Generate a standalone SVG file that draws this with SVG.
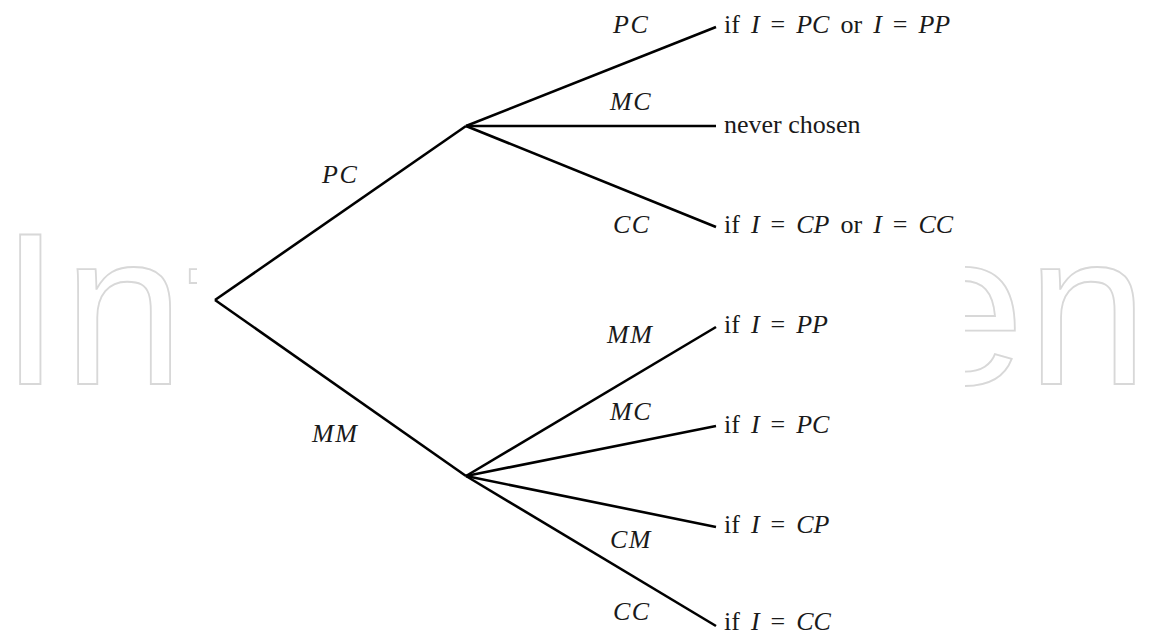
<svg xmlns="http://www.w3.org/2000/svg" width="1150" height="634" viewBox="0 0 1150 634">
<style>
.wm{font-family:"Liberation Sans","DejaVu Sans",Arial,sans-serif;font-size:218px;fill:none;stroke:#d8d8d8;stroke-width:1.8}
.edge{stroke:#000;stroke-width:2.6;stroke-linecap:butt;fill:none}
.lbl{font-family:"Liberation Serif","Times New Roman",serif;font-size:26px;font-style:italic;letter-spacing:1.5px;fill:#1a1a1a}
.leaf{font-family:"Liberation Serif","Times New Roman",serif;font-size:26px;word-spacing:4.5px;fill:#1a1a1a}
.plain{word-spacing:0}
.m{font-style:italic}
</style>
<rect width="1150" height="634" fill="#fff"/>
<text class="wm" x="0" y="384" textLength="1148" lengthAdjust="spacing">IntechOpen</text>
<rect x="197" y="0" width="768" height="634" fill="#fff"/>
<g id="connectors">
<line class="edge" x1="215" y1="300" x2="466" y2="126"/>
<line class="edge" x1="215" y1="300" x2="466" y2="476"/>
<line class="edge" x1="466" y1="126" x2="716" y2="27"/>
<line class="edge" x1="466" y1="126" x2="716" y2="126"/>
<line class="edge" x1="466" y1="126" x2="716" y2="227"/>
<line class="edge" x1="466" y1="476" x2="716" y2="327"/>
<line class="edge" x1="466" y1="476" x2="716" y2="426"/>
<line class="edge" x1="466" y1="476" x2="716" y2="527"/>
<line class="edge" x1="466" y1="476" x2="716" y2="626"/>
</g>
<g id="edge-labels">
<text class="lbl" x="322" y="183">PC</text>
<text class="lbl" x="312" y="442">MM</text>
<text class="lbl" x="613" y="33">PC</text>
<text class="lbl" x="610" y="110">MC</text>
<text class="lbl" x="613" y="233">CC</text>
<text class="lbl" x="607" y="343">MM</text>
<text class="lbl" x="610" y="420">MC</text>
<text class="lbl" x="610" y="548">CM</text>
<text class="lbl" x="613" y="620">CC</text>
</g>
<g id="leaf-pc-pc"><text class="leaf" x="724" y="33">if <tspan class="m">I</tspan> = <tspan class="m">PC</tspan> or <tspan class="m">I</tspan> = <tspan class="m">PP</tspan></text></g>
<g id="leaf-pc-mc"><text class="leaf plain" x="724" y="133">never chosen</text></g>
<g id="leaf-pc-cc"><text class="leaf" x="724" y="233">if <tspan class="m">I</tspan> = <tspan class="m">CP</tspan> or <tspan class="m">I</tspan> = <tspan class="m">CC</tspan></text></g>
<g id="leaf-mm-mm"><text class="leaf" x="724" y="333">if <tspan class="m">I</tspan> = <tspan class="m">PP</tspan></text></g>
<g id="leaf-mm-mc"><text class="leaf" x="724" y="433">if <tspan class="m">I</tspan> = <tspan class="m">PC</tspan></text></g>
<g id="leaf-mm-cm"><text class="leaf" x="724" y="533">if <tspan class="m">I</tspan> = <tspan class="m">CP</tspan></text></g>
<g id="leaf-mm-cc"><text class="leaf" x="724" y="630">if <tspan class="m">I</tspan> = <tspan class="m">CC</tspan></text></g>
</svg>
